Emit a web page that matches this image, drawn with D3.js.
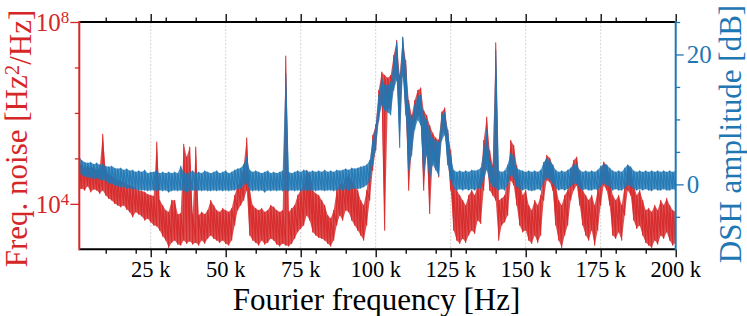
<!DOCTYPE html>
<meta charset="utf-8">
<style>
    body {
        margin: 0;
        background: #fff;
    }

    svg {
        font-family: "Liberation Serif", serif;
    }

    .axis path {
        display: none;
    }
</style>
<body>
<script src="https://cdn.jsdelivr.net/npm/d3@7"></script>
<script>
    // sample grid (kHz), 1 kHz bins
    const freqKHz = [
        1,2,3,4,5,6,7,8,9,10,11,12,13,14,15,16,17,18,19,20,
        21,22,23,24,25,26,27,28,29,30,31,32,33,34,35,36,37,38,39,40,
        41,42,43,44,45,46,47,48,49,50,51,52,53,54,55,56,57,58,59,60,
        61,62,63,64,65,66,67,68,69,70,71,72,73,74,75,76,77,78,79,80,
        81,82,83,84,85,86,87,88,89,90,91,92,93,94,95,96,97,98,99,100,
        101,102,103,104,105,106,107,108,109,110,111,112,113,114,115,116,117,118,119,120,
        121,122,123,124,125,126,127,128,129,130,131,132,133,134,135,136,137,138,139,140,
        141,142,143,144,145,146,147,148,149,150,151,152,153,154,155,156,157,158,159,160,
        161,162,163,164,165,166,167,168,169,170,171,172,173,174,175,176,177,178,179,180,
        181,182,183,184,185,186,187,188,189,190,191,192,193,194,195,196,197,198,199,200
    ];

    // frequency noise, log10(Hz^2/Hz): upper and lower edge of the noise band per bin
    const noiseLogHi = [
        4.89,4.85,4.78,4.83,4.78,4.81,4.74,4.78,5.53,4.70,
        4.65,4.61,4.56,4.52,4.50,4.48,4.43,4.41,4.39,4.34,
        4.30,4.28,4.26,4.21,4.19,4.17,5.36,4.08,3.97,3.86,
        3.82,4.08,4.08,3.77,3.79,5.31,5.03,5.25,3.77,5.25,
        3.75,3.82,3.77,3.86,4.08,3.97,3.86,3.82,3.90,3.86,
        3.82,3.90,4.19,4.41,4.52,4.85,5.45,4.30,3.97,3.90,
        3.86,3.90,3.82,3.86,3.97,3.93,3.86,3.82,3.86,7.25,
        3.82,3.90,3.97,4.19,4.30,4.41,4.74,4.63,4.30,4.23,
        4.19,4.08,3.97,3.75,3.68,3.86,4.30,4.45,4.41,4.56,
        4.63,4.52,4.41,4.30,4.08,3.97,4.30,4.85,5.51,5.73,
        6.50,6.90,6.83,6.77,6.83,7.27,7.60,6.83,7.65,7.16,
        6.28,5.95,6.28,6.50,6.55,6.06,5.95,5.73,5.56,5.45,
        5.40,6.02,6.11,5.62,5.18,4.41,4.30,4.19,4.08,3.97,
        4.19,4.30,4.19,4.41,4.63,5.40,5.91,5.18,4.85,7.54,
        4.08,4.12,4.19,4.63,5.40,5.29,4.85,4.52,4.19,4.30,
        3.97,3.86,4.08,3.97,4.19,4.85,5.07,5.01,4.85,4.41,
        4.08,3.97,4.19,4.30,4.74,4.96,5.03,4.63,4.30,4.19,
        4.08,4.19,3.97,4.30,4.74,4.92,4.85,4.63,4.19,4.08,
        4.19,3.97,4.41,4.85,4.78,4.41,4.19,4.30,4.08,3.86,
        3.90,3.82,3.97,3.86,4.08,3.97,4.12,3.97,3.86,3.82
    ];
    const noiseLogLo = [
        4.30,4.34,4.30,4.39,4.26,4.32,4.30,4.23,4.30,4.19,
        4.12,4.08,4.01,3.97,3.93,3.97,3.88,3.82,3.71,3.82,
        3.77,3.73,3.64,3.68,3.60,3.53,3.51,3.42,3.29,3.20,
        3.04,3.15,3.20,3.11,3.09,3.20,3.13,3.18,3.11,3.15,
        3.09,3.20,3.13,3.24,3.31,3.24,3.20,3.15,3.20,3.13,
        3.09,3.20,3.53,3.86,3.97,4.08,4.30,3.31,3.20,3.15,
        3.09,3.20,3.11,3.15,3.24,3.20,3.11,3.07,3.13,3.09,
        3.07,3.13,3.24,3.38,3.46,3.53,3.75,3.64,3.38,3.31,
        3.26,3.24,3.20,3.13,3.07,3.20,3.53,3.75,3.64,3.86,
        3.82,3.64,3.53,3.42,3.31,3.20,3.53,4.08,4.74,5.18,
        5.84,6.28,3.42,6.11,6.06,6.61,6.83,5.62,6.94,6.06,
        4.30,5.18,5.73,5.95,5.89,4.30,5.18,3.79,4.96,4.85,
        4.59,5.51,5.62,4.96,4.30,3.42,3.20,3.13,3.24,3.15,
        3.31,3.42,3.35,3.64,3.57,4.30,4.96,4.30,4.19,4.08,
        3.20,3.53,3.60,3.75,4.52,4.41,3.97,3.53,3.38,3.42,
        3.20,3.13,3.31,3.15,3.31,4.08,4.52,4.48,4.30,3.53,
        3.20,3.04,3.31,3.53,4.08,4.30,4.41,3.97,3.53,3.31,
        3.20,3.42,3.09,3.42,3.97,4.41,4.30,3.97,3.31,3.24,
        3.38,3.20,3.75,4.30,4.19,3.64,3.46,3.53,3.31,3.15,
        3.09,3.04,3.20,3.11,3.31,3.24,3.38,3.20,3.09,3.15
    ];

    // DSH amplitude, dB: upper and lower edge per bin
    const dshHi = [
        4.5,3.7,3.4,3.3,3.4,3.1,3.3,3.0,3.1,2.8,
        2.7,2.8,2.5,2.4,2.5,2.2,2.4,2.1,2.2,1.9,
        2.1,1.9,2.2,1.7,1.9,1.9,2.1,1.7,1.9,1.7,
        1.9,1.7,1.9,1.7,2.8,1.9,1.6,1.9,2.1,1.7,
        1.9,1.7,2.1,1.9,1.7,1.9,2.1,1.7,1.9,2.1,
        1.7,1.9,2.2,2.4,2.5,3.1,4.2,2.2,1.9,2.1,
        1.9,1.7,1.9,2.1,1.7,1.9,1.7,1.9,2.1,17.1,
        1.9,1.7,1.9,2.1,1.9,2.2,2.1,1.9,2.1,1.9,
        2.1,1.9,2.2,1.9,2.1,1.9,2.2,2.1,2.2,2.4,
        2.2,2.5,2.4,2.5,2.7,2.8,3.0,3.7,6.8,9.1,
        13.7,16.4,15.3,15.3,15.7,19.1,21.9,16.0,22.7,18.4,
        12.2,9.9,12.2,13.7,13.7,10.7,9.9,8.4,7.1,6.8,
        6.5,10.7,11.1,8.4,4.5,2.2,1.9,2.1,1.9,2.1,
        1.9,2.2,2.1,2.2,2.5,5.3,8.4,3.7,2.5,20.7,
        2.1,1.9,2.1,3.0,4.8,4.5,2.5,2.2,2.1,1.9,
        2.1,1.9,2.1,1.9,2.2,3.4,4.0,3.7,3.0,2.2,
        1.9,2.1,1.9,2.2,2.5,3.1,3.0,2.2,1.9,2.1,
        1.9,2.1,1.9,2.2,2.8,3.1,3.0,2.5,2.1,1.9,
        2.1,1.9,2.5,3.0,2.7,2.1,1.9,2.1,1.9,2.1,
        1.9,2.1,1.9,2.1,1.9,2.1,1.9,2.1,1.9,2.1
    ];
    const dshLo = [
        1.9,1.4,1.3,1.0,1.1,0.8,1.0,0.7,0.7,0.5,
        0.2,0.1,-0.1,-0.3,-0.4,-0.4,-0.6,-0.6,-0.7,-0.7,
        -0.9,-0.9,-0.9,-1.0,-0.9,-0.9,-1.0,-0.9,-1.0,-0.9,
        -1.2,-1.0,-0.9,-1.0,-0.9,-1.0,-1.2,-1.0,-0.9,-1.0,
        -0.9,-1.0,-0.9,-1.0,-1.0,-0.9,-1.0,-0.9,-1.0,-0.9,
        -1.0,-0.9,-0.9,-0.7,-0.6,-0.1,0.2,-0.9,-1.0,-0.9,
        -1.0,-0.9,-1.2,-0.9,-1.0,-0.9,-1.0,-0.9,-1.0,-0.9,
        -1.0,-0.9,-1.0,-0.9,-1.0,-0.9,-0.9,-1.0,-0.9,-1.0,
        -0.9,-0.9,-1.0,-0.9,-0.9,-1.0,-0.9,-0.7,-0.9,-0.7,
        -0.9,-0.7,-0.6,-0.7,-0.6,-0.4,-0.1,0.4,3.0,5.3,
        9.9,12.2,11.4,11.1,10.7,14.5,16.0,5.7,16.8,10.7,
        2.2,4.5,8.4,9.9,9.1,1.4,4.5,0.7,3.0,2.2,
        1.4,6.8,7.6,3.0,0.7,-0.6,-0.9,-0.7,-0.9,-0.7,
        -0.9,-0.7,-0.9,-0.6,-0.6,0.7,2.2,0.4,-0.3,-0.6,
        -0.9,-0.7,-0.9,-0.1,1.4,1.0,-0.3,-0.7,-0.9,-0.7,
        -0.9,-1.0,-0.9,-0.7,-0.9,0.4,1.0,0.7,0.2,-0.6,
        -0.9,-0.7,-0.9,-0.7,-0.3,0.1,0.1,-0.6,-0.9,-0.7,
        -0.9,-0.9,-0.7,-0.9,-0.3,0.2,-0.1,-0.4,-0.9,-0.7,
        -0.9,-0.9,-0.6,-0.1,-0.3,-0.7,-0.9,-0.7,-0.9,-0.7,
        -0.9,-1.0,-0.7,-0.9,-0.9,-0.7,-0.9,-0.9,-0.7,-0.9
    ];

    // ticks
    const xMajor = [25, 50, 75, 100, 125, 150, 175, 200];
    const xTickLabels = ["25 k", "50 k", "75 k", "100 k", "125 k", "150 k", "175 k", "200 k"];
    const xMinor = [10, 20, 30, 40, 60, 70, 80, 90, 110, 120, 130, 140, 160, 170, 180, 190];
    const noiseMajor = [1e4, 1e8];
    const noiseExp = ["4", "8"];
    const noiseMinor = [1e5, 1e6, 1e7];
    const dshMajor = [0, 20];
    const dshMinor = [-5, 5, 10, 15, 25];

    const width = 747, height = 316;
    const plot = {left: 79.3, right: 675.7, top: 22, bottom: 249.3};
    const red = "#d62728", blue = "#1f77b4";

    const svg = d3.select('body')
        .append('svg')
        .attr('width', width)
        .attr('height', height);

    const x = d3.scaleLinear().domain([1.2, 200]).range([plot.left, plot.right]);
    const yNoise = d3.scaleLog().domain([1e3, 1e8]).range([plot.bottom, plot.top]);
    const yDsh = d3.scaleLinear().domain([-10, 25]).range([plot.bottom, plot.top]);

    svg.append("clipPath").attr("id", "clip")
        .append("rect")
        .attr("x", plot.left).attr("y", plot.top)
        .attr("width", plot.right - plot.left).attr("height", plot.bottom - plot.top);

    // grid
    svg.append("g").selectAll("line")
        .data(xMajor.filter(d => d < 200))
        .enter().append("line")
        .attr("x1", d => x(d)).attr("x2", d => x(d))
        .attr("y1", plot.top).attr("y2", plot.bottom)
        .style("stroke", "#d4d4d4")
        .style("stroke-width", 1)
        .style("stroke-dasharray", "2,1.5");

    // each trace: a band between the two edges of every bin,
    // with a thin zigzag through the same edges for the ragged look
    function zigzag(lo, hi, yv) {
        const pts = [];
        freqKHz.forEach((f, i) => {
            pts.push([x(f), yv(lo[i])]);
            pts.push([x(f), yv(hi[i])]);
        });
        return d3.line()(pts);
    }
    function band(lo, hi, yv) {
        return d3.area()
            .x(i => x(freqKHz[i]))
            .y0(i => yv(lo[i]))
            .y1(i => yv(hi[i]))(d3.range(freqKHz.length));
    }

    const traces = svg.append("g").attr("clip-path", "url(#clip)");
    const logY = v => yNoise(Math.pow(10, v));

    function trace(lo, hi, yv, color) {
        traces.append("path")
            .attr("d", band(lo, hi, yv))
            .style("fill", color)
            .style("fill-opacity", 0.8);
        traces.append("path")
            .attr("d", zigzag(lo, hi, yv))
            .style("fill", "none")
            .style("stroke", color)
            .style("stroke-width", 1.1)
            .style("stroke-opacity", 0.9)
            .style("stroke-linejoin", "round");
    }
    trace(noiseLogLo, noiseLogHi, logY, red);
    trace(dshLo, dshHi, yDsh, blue);

    // ticks
    function ticks(axis, vals, size, transform, color) {
        const g = svg.append("g").attr("class", "axis")
            .attr("transform", transform)
            .call(axis.tickValues(vals).tickSize(size).tickSizeOuter(0).tickFormat(""));
        g.selectAll("line").style("stroke", color).style("stroke-width", 1.3);
        return g;
    }
    ticks(d3.axisBottom(x), xMajor, 8, `translate(0,${plot.bottom})`, "#000");
    ticks(d3.axisBottom(x), xMinor, 4.5, `translate(0,${plot.bottom})`, "#000");
    ticks(d3.axisTop(x), xMajor, 8, `translate(0,${plot.top})`, "#000");
    ticks(d3.axisTop(x), xMinor, 4.5, `translate(0,${plot.top})`, "#000");
    ticks(d3.axisLeft(yNoise), noiseMajor, 9, `translate(${plot.left},0)`, red);
    ticks(d3.axisLeft(yNoise), noiseMinor, 4.5, `translate(${plot.left},0)`, red);
    ticks(d3.axisRight(yDsh), dshMajor, 8, `translate(${plot.right},0)`, blue);
    ticks(d3.axisRight(yDsh), dshMinor, 4.5, `translate(${plot.right},0)`, blue);

    // spines
    const spine = (x1, y1, x2, y2, c) => svg.append("line")
        .attr("x1", x1).attr("y1", y1).attr("x2", x2).attr("y2", y2)
        .style("stroke", c).style("stroke-width", 2);
    spine(plot.left, plot.top, plot.right, plot.top, "#000");
    spine(plot.left, plot.bottom, plot.right, plot.bottom, "#000");
    spine(plot.left, plot.top - 1, plot.left, plot.bottom + 1, red);
    spine(plot.right, plot.top - 1, plot.right, plot.bottom + 1, blue);

    // tick labels
    svg.append("g").selectAll("text")
        .data(xMajor)
        .enter().append("text")
        .attr("x", d => x(d))
        .attr("y", 276.5)
        .style("text-anchor", "middle")
        .style("font-size", "22.5px")
        .text((d, i) => xTickLabels[i]);

    const nl = svg.append("g").selectAll("text")
        .data(noiseMajor)
        .enter().append("text")
        .attr("x", plot.left - 10)
        .attr("y", d => yNoise(d) + 9)
        .style("text-anchor", "end")
        .style("font-size", "25px")
        .style("fill", red);
    nl.append("tspan").text("10");
    nl.append("tspan")
        .attr("dy", "-0.45em")
        .style("font-size", "17px")
        .text((d, i) => noiseExp[i]);

    svg.append("g").selectAll("text")
        .data(dshMajor)
        .enter().append("text")
        .attr("x", plot.right + 11)
        .attr("y", d => yDsh(d) + 9)
        .style("font-size", "25px")
        .style("fill", blue)
        .text(d => d);

    // axis titles
    svg.append("text")
        .attr("x", 376.5)
        .attr("y", 310)
        .style("text-anchor", "middle")
        .style("font-size", "31px")
        .text("Fourier frequency [Hz]");

    const lt = svg.append("text")
        .attr("transform", "translate(27,138.5) rotate(-90)")
        .style("text-anchor", "middle")
        .style("font-size", "31px")
        .style("fill", red);
    lt.append("tspan").text("Freq. noise [Hz");
    lt.append("tspan").attr("dy", "-0.4em").style("font-size", "21px").text("2");
    lt.append("tspan").attr("dy", "0.4em").text("/Hz]");

    svg.append("text")
        .attr("transform", "translate(741,134) rotate(-90)")
        .style("text-anchor", "middle")
        .style("font-size", "31px")
        .style("fill", blue)
        .text("DSH amplitude [dB]");
</script>
</body>
